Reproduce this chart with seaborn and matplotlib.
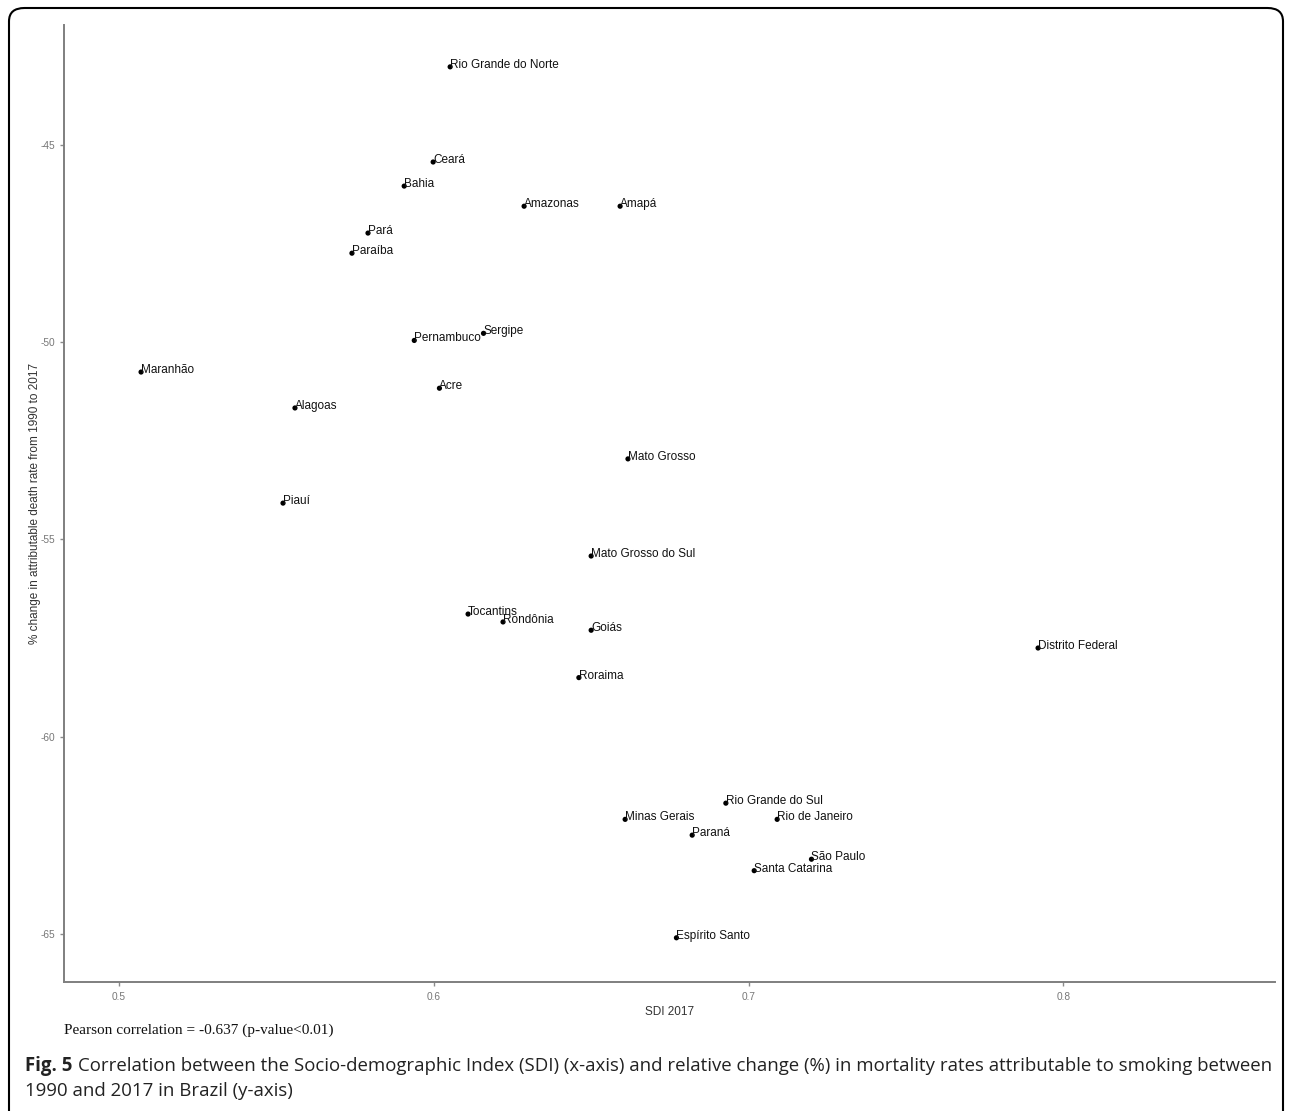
import pandas as pd
import numpy as np
import matplotlib.pyplot as plt
import seaborn as sns
from matplotlib.patches import FancyBboxPatch

#values
states = ['Rio Grande do Norte', 'Ceará', 'Bahia', 'Amazonas', 'Amapá', 'Pará', 'Paraíba',
          'Pernambuco', 'Sergipe', 'Acre', 'Maranhão', 'Alagoas', 'Mato Grosso', 'Piauí',
          'Mato Grosso do Sul', 'Tocantins', 'Rondônia', 'Goiás', 'Roraima', 'Distrito Federal',
          'Rio Grande do Sul', 'Minas Gerais', 'Rio de Janeiro', 'Paraná', 'São Paulo',
          'Santa Catarina', 'Espírito Santo']
sdi = [0.6052, 0.5998, 0.5906, 0.6287, 0.6592, 0.5791, 0.5740,
       0.5938, 0.6158, 0.6018, 0.5070, 0.5559, 0.6617, 0.5521,
       0.6500, 0.6109, 0.6220, 0.6500, 0.6461, 0.7920,
       0.6928, 0.6608, 0.7091, 0.6821, 0.7200,
       0.7018, 0.6771]
change = [-43.03, -45.44, -46.05, -46.56, -46.56, -47.24, -47.75,
          -49.96, -49.78, -51.17, -50.76, -51.67, -52.96, -54.08,
          -55.42, -56.89, -57.09, -57.30, -58.50, -57.75,
          -61.68, -62.09, -62.09, -62.49, -63.10,
          -63.39, -65.09]
x_ticks = [0.5, 0.6, 0.7, 0.8]
y_ticks = [-45, -50, -55, -60, -65]

df = pd.DataFrame({'state': states, 'sdi': sdi, 'change': change})

sns.set_style('white')
plt.rcParams['font.family'] = ['Liberation Sans', 'DejaVu Sans']

fig = plt.figure(figsize=(12.92, 11.11), dpi=100)
ax = fig.add_axes([0.0495, 0.1161, 0.9374, 0.8614])

sns.scatterplot(ax=ax, data=df, x='sdi', y='change', color='black', s=14, edgecolor='none')
for _, row in df.iterrows():
    ax.annotate(row['state'], (row['sdi'], row['change']), xytext=(0, 1.5),
                textcoords='offset points', ha='left', va='center', fontsize=8.5,
                color='#111111')

ax.set_xlim(0.4825, 0.8673)
ax.set_ylim(-66.21, -41.97)
ax.set_xticks(x_ticks)
ax.set_xticklabels([str(t) for t in x_ticks])
ax.set_yticks(y_ticks)
ax.set_yticklabels([str(t) for t in y_ticks])
ax.tick_params(axis='both', labelsize=7.3, colors='#8a8a8a', labelcolor='#777777', length=3,
               width=1, direction='out', bottom=True, left=True, pad=3)
ax.tick_params(axis='x', pad=4)
sns.despine(ax=ax)
for side in ['left', 'bottom']:
    ax.spines[side].set_color('#7f7f7f')
    ax.spines[side].set_linewidth(1.4)
ax.set_xlabel('SDI 2017', fontsize=8.5, color='#333333', labelpad=3)
ax.set_ylabel('% change in attributable death rate from 1990 to 2017', fontsize=8.5,
              color='#333333', labelpad=0)

fig.text(64 / 1292, 1 - 1030 / 1111, 'Pearson correlation = -0.637 (p-value<0.01)',
         family='Liberation Serif', fontsize=11, va='center', ha='left', color='#111111')
t1 = fig.text(25 / 1292, 1 - 1066 / 1111, 'Fig. 5', family='Open Sans', fontweight='bold',
              fontsize=13.45, va='center', ha='left', color='#222222')
ax.annotate('Correlation between the Socio-demographic Index (SDI) (x-axis) and relative change (%) in mortality rates attributable to smoking between',
            xy=(1, 0.5), xycoords=t1, xytext=(4, 0), textcoords='offset points',
            family='Open Sans', fontsize=13.45, va='center', ha='left', color='#222222',
            annotation_clip=False)
fig.text(25 / 1292, 1 - 1091 / 1111, '1990 and 2017 in Brazil (y-axis)',
         family='Open Sans', fontsize=13.45, va='center', ha='left', color='#222222')

frame = FancyBboxPatch((9 / 1292, -0.02), 1274 / 1292, 1.0 - 8 / 1111 + 0.02,
                       boxstyle='round,pad=0,rounding_size=0.012', transform=fig.transFigure,
                       facecolor='none', edgecolor='black', linewidth=1.5)
fig.patches.append(frame)

fig.savefig('out.png', dpi=100)
